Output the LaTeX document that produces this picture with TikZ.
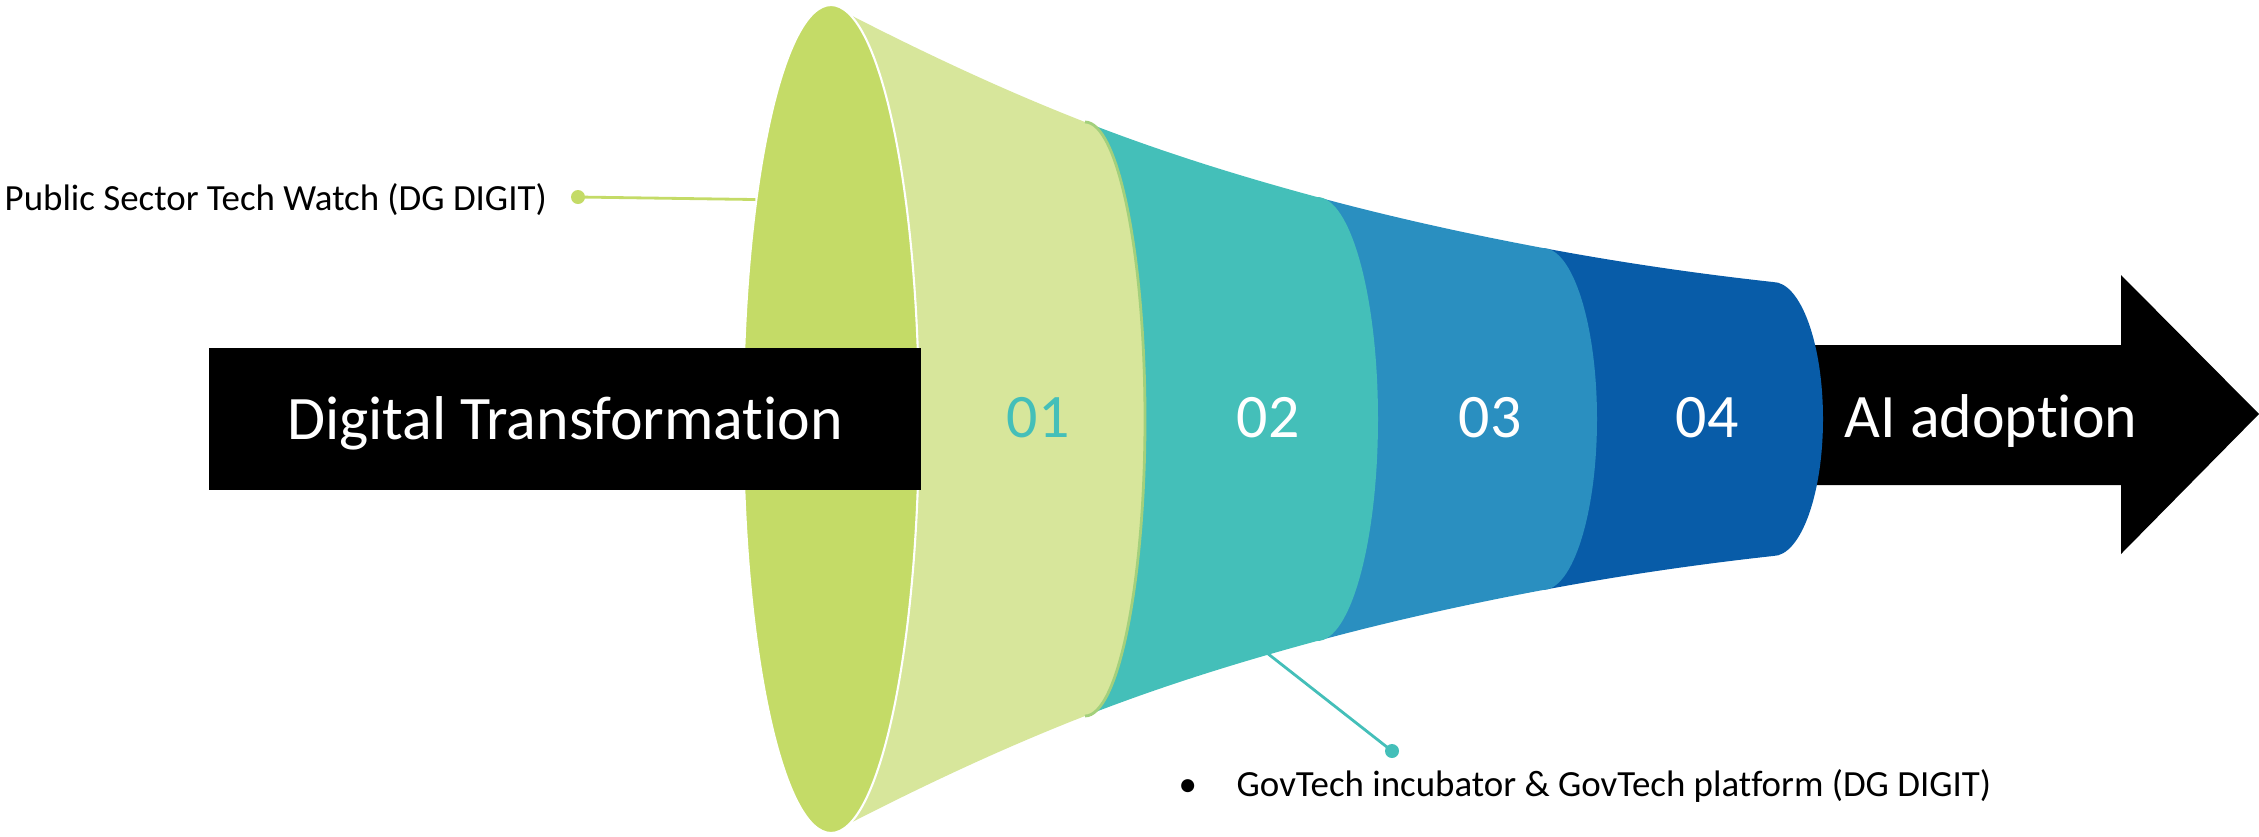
\documentclass[tikz,border=0pt]{standalone}
\usepackage{fontspec}
\setmainfont{Carlito}[Ligatures=NoCommon]
\usetikzlibrary{shapes.geometric,positioning}

\definecolor{mouthgreen}{HTML}{C4DB67}
\definecolor{segA}{HTML}{D7E69B}
\definecolor{rimA}{HTML}{A3D07C}
\definecolor{segB}{HTML}{44BFB9}
\definecolor{segC}{HTML}{2A8FC0}
\definecolor{segD}{HTML}{085CA8}

\begin{document}
\begin{tikzpicture}[
    bigtext/.style={font=\fontsize{17.6}{21}\selectfont, text=white, text height=0.41cm, text depth=0pt, inner sep=0pt},
    smalltext/.style={font=\fontsize{10.5}{13}\selectfont, text height=0.23cm, text depth=0pt, inner sep=0pt, anchor=west},
    pin/.style={circle, inner sep=0pt, minimum size=0.14cm},
  ]
  % keep the slide margins
  \useasboundingbox (0,-4.17) rectangle (22.59,4.19);

  % black arrow leaving the funnel
  \fill (17.73,0.74) -- (21.21,0.74) -- (21.21,1.44) -- (22.59,0.05)
    -- (21.21,-1.35) -- (21.21,-0.66) -- (17.73,-0.66) -- cycle;
  \node[bigtext] (adopt) at (19.91,0.025) {AI adoption};

  % funnel slices, back to front
  % xa/ha/sa: left end, half height, slope; xb/hb/sb: right end; rx: rim radius
  \foreach \xa/\ha/\sa/\xb/\hb/\sb/\rx/\col in
  {
    15.43/1.71/-0.187/17.73/1.37/-0.11/0.50/segD,
    13.17/2.22/-0.27/15.43/1.71/-0.187/0.54/segC,
    10.85/2.97/-0.39/13.17/2.22/-0.27/0.61/segB,
    8.31/4.14/-0.52/10.85/2.97/-0.39/0.60/segA} {
    \pgfmathsetmacro{\third}{(\xb-\xa)/3}
    \fill[fill=\col] (\xa,\ha) .. controls ({\xa+\third},{\ha+\sa*\third}) and ({\xb-\third},{\hb-\sb*\third}) .. (\xb,\hb)
      arc[start angle=90, end angle=-90, x radius=\rx, y radius=\hb]
      .. controls ({\xb-\third},{-\hb+\sb*\third}) and ({\xa+\third},{-\ha-\sa*\third}) .. (\xa,-\ha) -- cycle;
  }
  % thin rim of slice 01
  \draw[rimA, line width=0.8pt] (10.85,2.97) arc[start angle=90, end angle=-90, x radius=0.60, y radius=2.97];

  % mouth of the funnel
  \node[ellipse, fill=mouthgreen, draw=white, line width=0.6pt, minimum width=1.76cm, minimum height=8.28cm, inner sep=0pt] (mouth) at (8.31,0) {};

  % entry bar
  \node[bigtext, fill=black, minimum width=7.12cm, minimum height=1.42cm] (entry) at (5.65,0) {Digital Transformation};

  % slice numbers
  \foreach \x/\n/\c in {10.38/01/segB, 12.68/02/white, 14.90/03/white, 17.07/04/white}
    \node[bigtext, text=\c] (s\n) at (\x,0.025) {\n};

  % callout on the mouth
  \node[pin, fill=mouthgreen] (dotA) at (5.78,2.22) {};
  \draw[mouthgreen, line width=0.8pt] (dotA.center) -- (mouth.109);
  \node[smalltext] (watch) at (0.04,2.20) {Public Sector Tech Watch (DG DIGIT)};

  % callout under slice 02
  \coordinate (rim) at (12.67,-2.34);
  \node[pin, fill=segB] (dotB) at (13.92,-3.32) {};
  \draw[segB, line width=0.8pt] (rim) -- (dotB.center);
  \node[smalltext] (bullet) at (11.78,-3.66) {\textbullet};
  \node[smalltext] (govtech) at (12.36,-3.66) {GovTech incubator \& GovTech platform (DG DIGIT)};
\end{tikzpicture}
\end{document}
